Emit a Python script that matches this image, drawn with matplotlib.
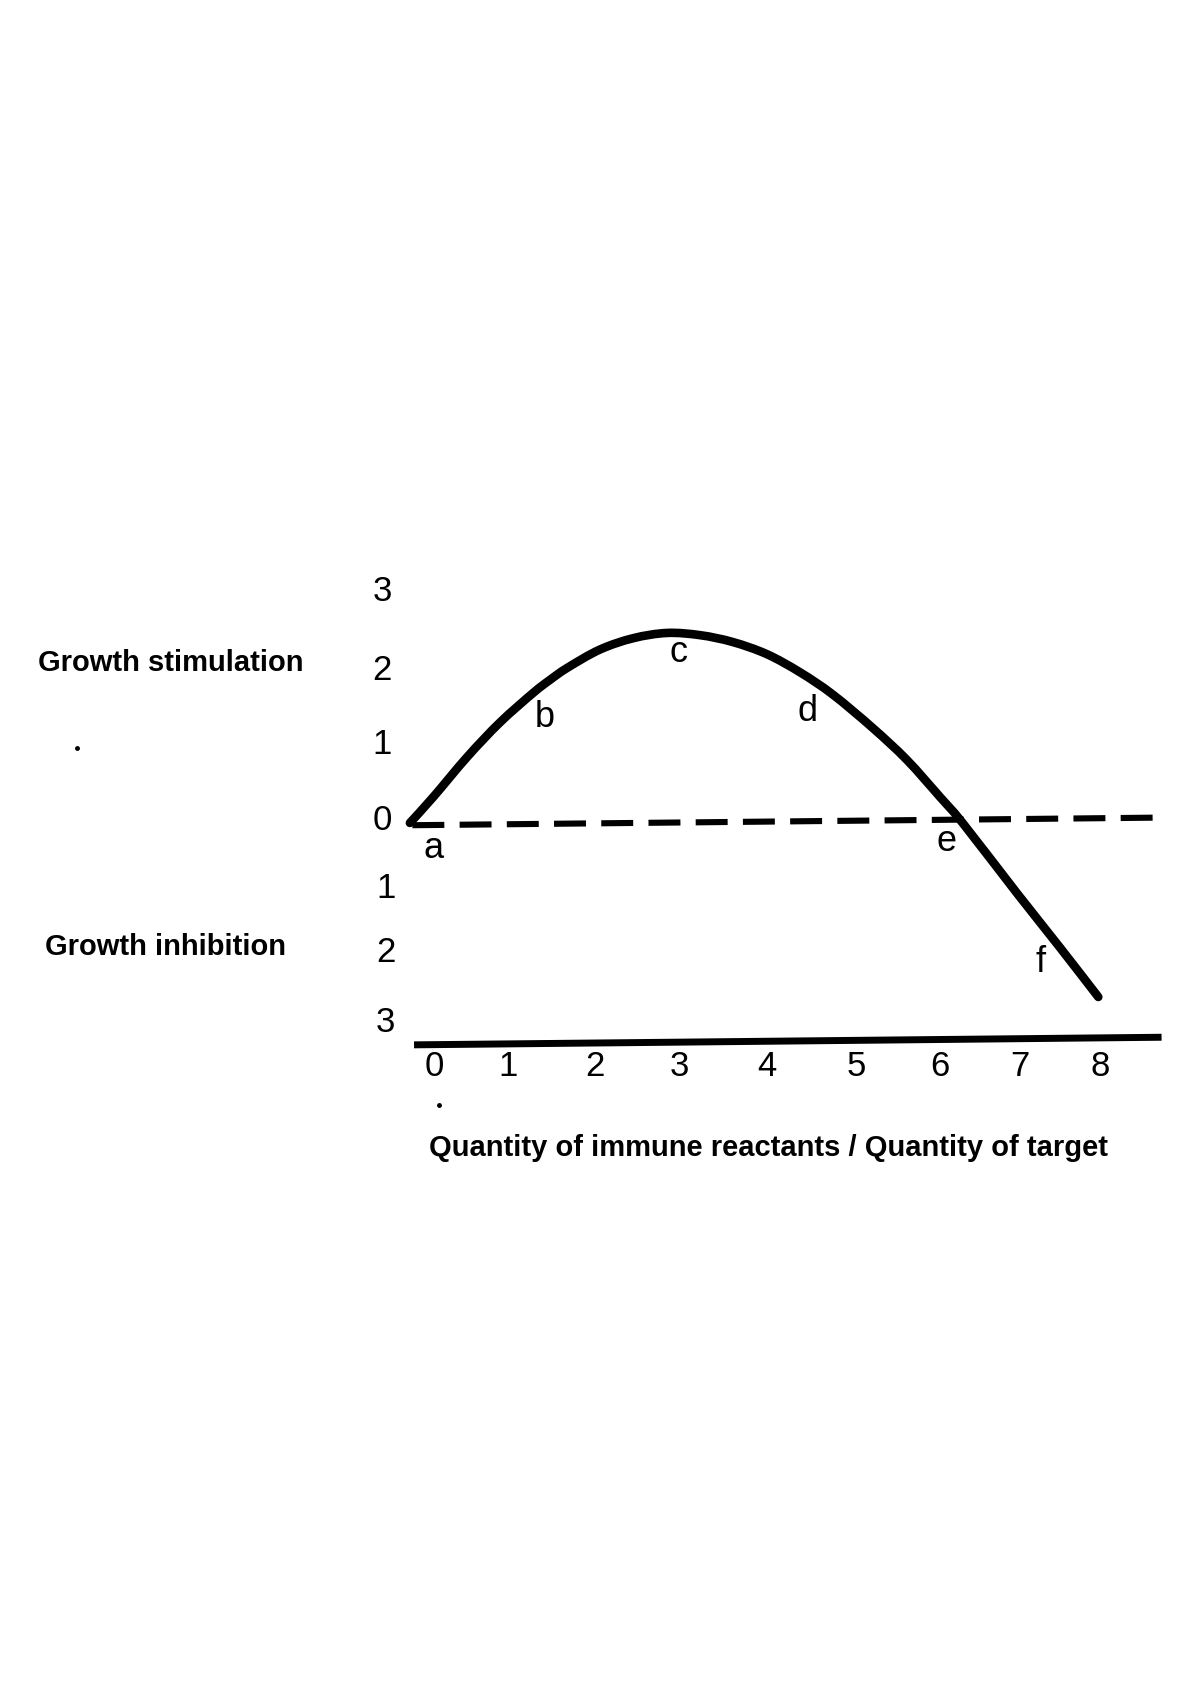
import matplotlib
matplotlib.use("Agg")
import matplotlib.pyplot as plt
import numpy as np
from matplotlib.patches import PathPatch
from matplotlib.path import Path

# curve (x = quantity ratio, y = growth response)
curve_x = [-0.29, -0.01, 0.40, 0.79, 1.19, 1.39, 1.60, 1.99, 2.39, 2.80, 3.20,
           3.59, 4.00, 4.40, 4.79, 5.27, 5.68, 6.08, 6.35, 7.00, 7.52, 7.98]
curve_y = [0.00, 0.34, 0.87, 1.32, 1.71, 1.88, 2.04, 2.28, 2.43, 2.50, 2.47,
           2.38, 2.22, 1.98, 1.69, 1.25, 0.83, 0.34, 0.00, -0.92, -1.64, -2.29]

# baseline (dashed) and bottom axis line
zero_x = [-0.26, 8.70]
zero_y = [-0.03, 0.07]
axis_x = [-0.24, 8.74]
axis_y = [-2.92, -2.82]

x_tick_labels = ["0", "1", "2", "3", "4", "5", "6", "7", "8"]
x_tick_pos = [0, 0.89, 1.93, 2.95, 4.0, 5.07, 6.08, 7.04, 8.0]

y_tick_labels = ["3", "2", "1", "0", "1", "2", "3"]
y_tick_pos = [3.04, 2.0, 1.03, 0.03, -0.86, -1.71, -2.62]

point_labels = ["a", "b", "c", "d", "e", "f"]
point_x = [-0.01, 1.33, 2.94, 4.49, 6.16, 7.29]
point_y = [-0.33, 1.39, 2.24, 1.46, -0.25, -1.83]

FONT = ["Liberation Sans", "DejaVu Sans"]


def smooth_path(xs, ys):
    # Catmull-Rom through the read points, drawn as cubic Bezier segments
    pts = np.column_stack([xs, ys])
    n = len(pts)
    verts = [pts[0]]
    codes = [Path.MOVETO]
    for i in range(n - 1):
        p0 = pts[max(i - 1, 0)]
        p1 = pts[i]
        p2 = pts[i + 1]
        p3 = pts[min(i + 2, n - 1)]
        verts += [p1 + (p2 - p0) / 6, p2 - (p3 - p1) / 6, p2]
        codes += [Path.CURVE4] * 3
    return Path(verts, codes)


fig = plt.figure(figsize=(12, 16.98), dpi=100)
ax = fig.add_axes([0.327, 0.3587, 0.659, 0.3133])
ax.set_xlim(-0.5, 9.0)
ax.set_ylim(-3.5, 3.5)
ax.axis("off")

ax.add_patch(PathPatch(smooth_path(curve_x, curve_y), fill=False, color="black",
                       lw=6.2, capstyle="round", joinstyle="round"))
ax.plot(zero_x, zero_y, color="black", lw=4.4, dashes=(23 / 4.4, 11 / 4.4))
ax.plot(axis_x, axis_y, color="black", lw=5.0, solid_capstyle="butt")

for lab, xp in zip(x_tick_labels, x_tick_pos):
    ax.text(xp, -3.21, lab, ha="center", va="center", fontsize=25, family=FONT)

for i, (lab, yp) in enumerate(zip(y_tick_labels, y_tick_pos)):
    xp = -0.62 if i <= 3 else -0.58
    ax.text(xp, yp, lab, ha="center", va="center", fontsize=25, family=FONT)

for lab, xp, yp in zip(point_labels, point_x, point_y):
    ax.text(xp, yp, lab, ha="center", va="center", fontsize=26, family=FONT)

ax.text(-3.16, 2.10, "Growth stimulation", ha="center", va="center",
        fontsize=21, fontweight="bold", family=FONT)
ax.text(-3.22, -1.63, "Growth inhibition", ha="center", va="center",
        fontsize=21, fontweight="bold", family=FONT)
ax.text(4.02, -4.28, "Quantity of immune reactants / Quantity of target",
        ha="center", va="center", fontsize=21, fontweight="bold", family=FONT)

# stray specks on the scan
ax.plot([-4.29, 0.06], [0.99, -3.71], "o", color="black", ms=2.5, clip_on=False)

fig.savefig("out.png", dpi=100)
